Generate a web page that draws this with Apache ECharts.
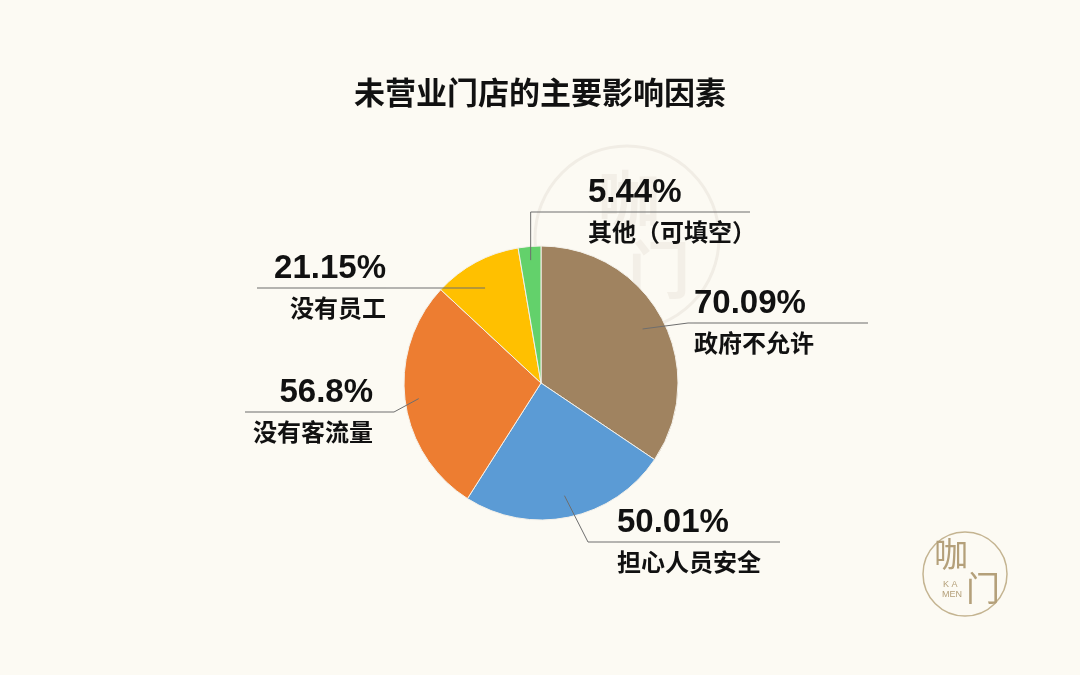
<!DOCTYPE html>
<html><head><meta charset="utf-8">
<script src="https://cdn.jsdelivr.net/npm/echarts@6/dist/echarts.min.js"></script>
<style>html,body{margin:0;padding:0;background:#FCFAF3;} #c{width:1080px;height:675px;}</style>
</head><body><div id="c"></div>
<script>
// ---- data ----
const chartTitle = '未营业门店的主要影响因素';
const categories = ['政府不允许', '担心人员安全', '没有客流量', '没有员工', '其他（可填空）'];
const values = [70.09, 50.01, 56.8, 21.15, 5.44];
const colors = ['#A08360', '#5B9BD5', '#ED7D31', '#FFC000', '#63D16B'];

// ---- layout (positions kept apart from data) ----
const CX = 541, CY = 383, R = 137;
const labelPlacement = [
  {side: 'right', lineY: 323, elbowX: 688, textX: 694, width: 174, k: 0.84},
  {side: 'right', lineY: 542, elbowX: 588, textX: 617, width: 163, k: 0.84},
  {side: 'left',  lineY: 412, elbowX: 394, textX: 373, width: 128, k: 0.9},
  {side: 'left',  lineY: 288, elbowX: null, straight: true, textX: 386, width: 129, k: 0.86},
  {side: 'right', lineY: 212, elbowX: null, textX: 588, width: 162, k: 0.9}
];
const LH_P = 38, LH_N = 40;
const FONT_NUM = '"Liberation Sans", Arial, "Noto Sans CJK SC", sans-serif';
const FONT_CJK = '"Noto Sans CJK SC", "Liberation Sans", sans-serif';
const LINE_COLOR = '#6e6e6e';

const total = values.reduce((a, b) => a + b, 0);
let acc = 0;
const midAngles = values.map(v => { const m = (acc + v / 2) / total * 2 * Math.PI; acc += v; return m; });

const chart = echarts.init(document.getElementById('c'), null, {renderer: 'canvas'});
const pStyle = align => ({fontSize: 33, fontWeight: 'bold', color: '#111', lineHeight: LH_P, fontFamily: FONT_NUM, align});
const nStyle = align => ({fontSize: 24, fontWeight: 'bold', color: '#111', lineHeight: LH_N, fontFamily: FONT_CJK, align});
const WM = '#F3EFE7';

const baseSeries = {
  type: 'pie',
  center: [CX, CY],
  radius: R,
  startAngle: 90,
  clockwise: true,
  avoidLabelOverlap: false
};

chart.setOption({
  backgroundColor: '#FCFAF3',
  animation: false,
  title: {
    text: chartTitle, left: 'center', top: 72,
    textStyle: {fontSize: 31, fontWeight: 'bold', color: '#111', fontFamily: FONT_CJK}
  },
  graphic: [
    {type: 'circle', z: 0, silent: true, shape: {cx: 627, cy: 238, r: 92}, style: {fill: 'none', stroke: '#F1EDE5', lineWidth: 3}},
    {type: 'text', z: 0, silent: true, x: 598, y: 168, style: {text: '咖', fill: WM, font: 'bold 62px "Noto Sans CJK SC"'}},
    {type: 'text', z: 0, silent: true, x: 628, y: 238, style: {text: '门', fill: WM, font: 'bold 62px "Noto Sans CJK SC"'}},
    {type: 'circle', silent: true, shape: {cx: 965, cy: 574, r: 42}, style: {fill: 'none', stroke: '#C4B491', lineWidth: 1.5}},
    {type: 'text', silent: true, x: 934, y: 537, style: {text: '咖', font: '34px "Noto Sans CJK SC"', fill: '#B4A07A'}},
    {type: 'text', silent: true, x: 966, y: 571, style: {text: '门', font: '34px "Noto Sans CJK SC"', fill: '#B4A07A'}},
    {type: 'text', silent: true, x: 943, y: 580, style: {text: 'K A', font: '9px "Liberation Sans"', fill: '#B4A07A'}},
    {type: 'text', silent: true, x: 942, y: 590, style: {text: 'MEN', font: '9px "Liberation Sans"', fill: '#B4A07A'}}
  ],
  series: [
    Object.assign({}, baseSeries, {
      z: 2,
      itemStyle: {borderColor: '#F4F1EA', borderWidth: 1},
      label: {show: false},
      labelLine: {show: false},
      data: categories.map((name, i) => ({name, value: values[i], itemStyle: {color: colors[i]}}))
    }),
    Object.assign({}, baseSeries, {
      z: 5,
      silent: true,
      itemStyle: {color: 'rgba(0,0,0,0)', borderWidth: 0},
      data: categories.map((name, i) => ({
        name, value: values[i],
        label: {width: labelPlacement[i].width}
      })),
      label: {
        show: true,
        position: 'outside',
        overflow: 'none',
        formatter: p => {
          const s = labelPlacement[p.dataIndex].side === 'left' ? 'R' : 'L';
          return '{p' + s + '|' + values[p.dataIndex] + '%}\n{hr|}\n{n' + s + '|' + categories[p.dataIndex] + '}';
        },
        rich: {
          pL: pStyle('left'), pR: pStyle('right'),
          nL: nStyle('left'), nR: nStyle('right'),
          hr: {width: '100%', height: 0, borderColor: LINE_COLOR, borderWidth: 0.6}
        }
      },
      labelLine: {show: true, showAbove: true, length: 10, length2: 10, lineStyle: {color: LINE_COLOR, width: 1}},
      labelLayout: function (params) {
        const i = params.dataIndex, L = labelPlacement[i];
        const m = midAngles[i];
        const ax = CX + R * L.k * Math.sin(m);
        const ay = L.straight ? L.lineY : CY - R * L.k * Math.cos(m);
        const ex = L.elbowX == null ? ax : L.elbowX;
        return {
          x: L.textX,
          y: L.lineY + (LH_N - LH_P) / 2,
          align: L.side === 'left' ? 'right' : 'left',
          verticalAlign: 'middle',
          labelLinePoints: [[ax, ay], [ex, L.lineY], [L.textX, L.lineY]]
        };
      }
    })
  ]
});
</script>
</body></html>
